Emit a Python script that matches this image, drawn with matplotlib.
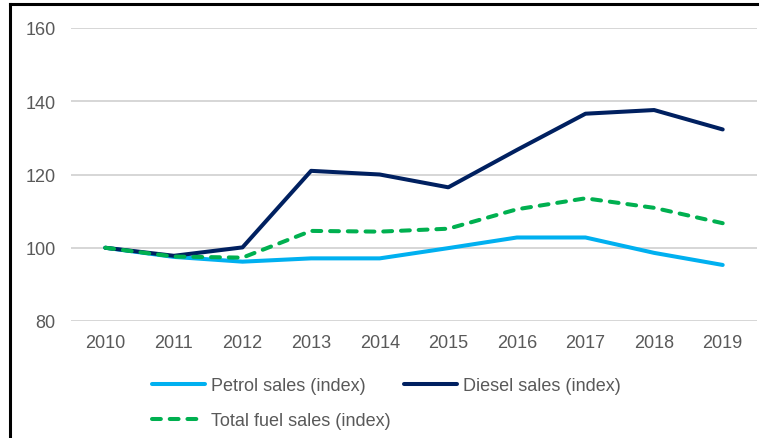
import matplotlib
matplotlib.use("Agg")
import matplotlib.pyplot as plt
from matplotlib.lines import Line2D

years = ['2010', '2011', '2012', '2013', '2014', '2015', '2016', '2017', '2018', '2019']
petrol = [100, 97.5, 96.2, 97.1, 97.1, 99.9, 102.8, 102.8, 98.6, 95.3]
diesel = [100, 97.8, 100.1, 121.0, 120.0, 116.5, 126.7, 136.6, 137.6, 132.3]
total = [100, 97.6, 97.3, 104.6, 104.4, 105.2, 110.5, 113.5, 110.9, 106.7]

W, H = 769, 439
plt.rcParams['font.family'] = ['Liberation Sans', 'DejaVu Sans']
txt = '#595959'

fig = plt.figure(figsize=(W/100, H/100), dpi=100)
ax = fig.add_axes([71/W, 1-322/H, (757-71)/W, (322-29)/H])

x = range(len(years))
lw = 2.9
l1, = ax.plot(x, petrol, color='#00B0F0', lw=lw, solid_capstyle='round', label='Petrol sales (index)')
l2, = ax.plot(x, diesel, color='#002060', lw=lw, solid_capstyle='round', label='Diesel sales (index)')
l3, = ax.plot(x, total, color='#00B050', lw=lw, dashes=(2.2, 2.2), dash_capstyle='round',
              label='Total fuel sales (index)')

ax.set_xlim(-0.5, len(years)-0.5)
ax.set_ylim(80, 160)
ax.set_yticks([80, 100, 120, 140, 160])
ax.set_xticks(list(x))
ax.set_xticklabels(years)
ax.grid(axis='y', color='#D6D6D6', lw=1.4)
ax.set_axisbelow(True)
for s in ax.spines.values():
    s.set_visible(False)
ax.tick_params(axis='both', length=0, labelsize=13, labelcolor=txt)
ax.tick_params(axis='y', pad=11)
ax.tick_params(axis='x', pad=9.5)

fig.legend(handles=[l1, l3, l2], ncol=2, loc='upper left',
           bbox_to_anchor=(152/W, 1-378/H), frameon=False, fontsize=13,
           labelcolor=txt, borderpad=0, borderaxespad=0, handlelength=2.95,
           handletextpad=0.3, columnspacing=0.75, labelspacing=1.0)

# border of the original image
fig.add_artist(Line2D([10/W, 10/W], [0, 1-5/H], color='black', lw=2.2, transform=fig.transFigure))
fig.add_artist(Line2D([10/W, 757/W], [1-5/H, 1-5/H], color='black', lw=2.2, transform=fig.transFigure))

fig.savefig('out.png', dpi=100)
